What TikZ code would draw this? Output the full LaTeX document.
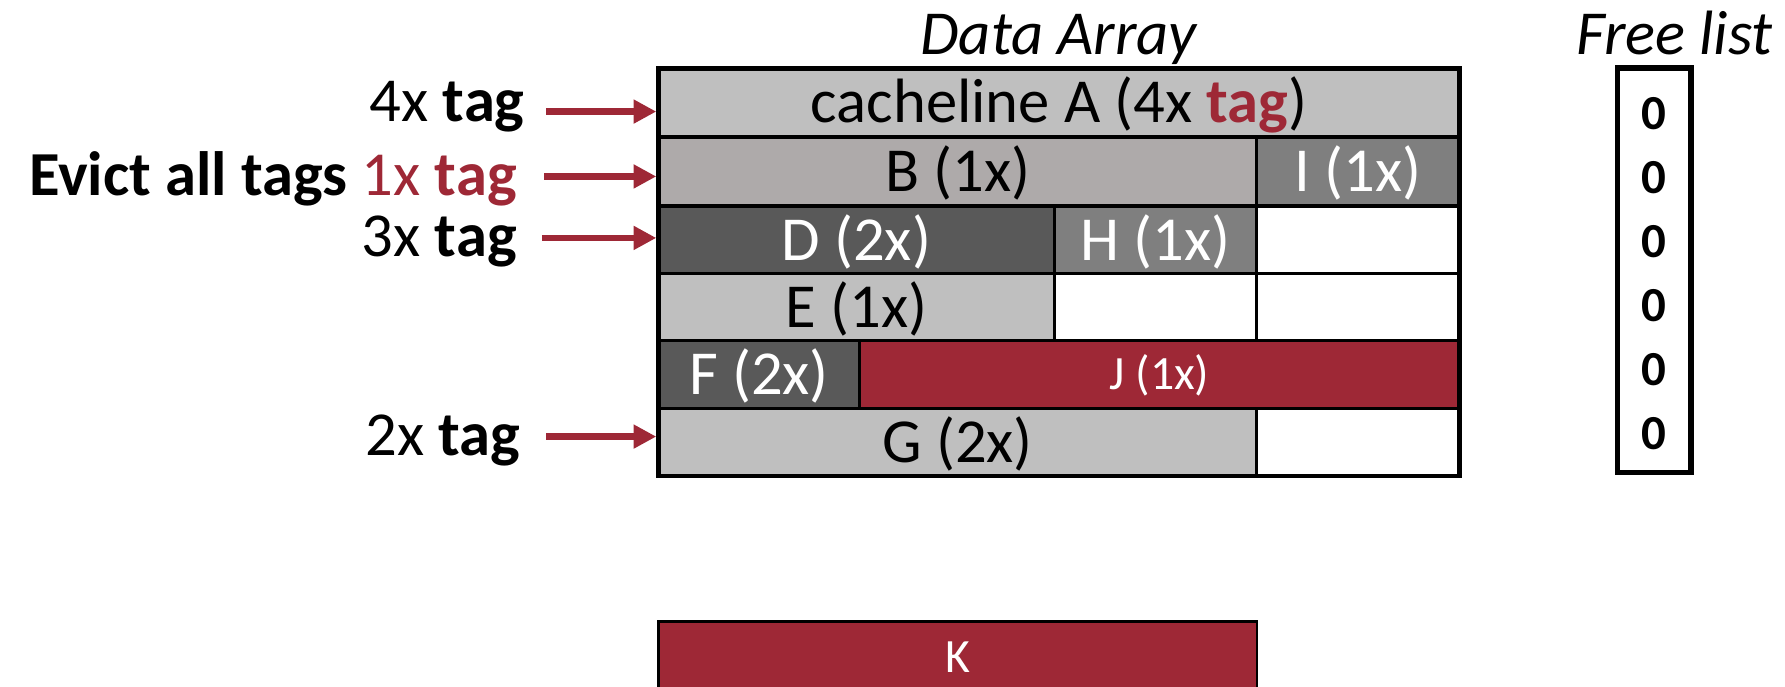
\documentclass[tikz,border=0pt]{standalone}
\usepackage{fontspec}
\setmainfont{Carlito}
\usetikzlibrary{arrows.meta}
\definecolor{tagred}{RGB}{158,40,54}
\definecolor{cellLight}{RGB}{191,191,191}
\definecolor{cellWarm}{RGB}{174,170,170}
\definecolor{cellMid}{RGB}{127,127,127}
\definecolor{cellDark}{RGB}{89,89,89}
\begin{document}
\begin{tikzpicture}[x=1pt,y=-1pt,
  cell/.style={draw=black,line width=2.5pt,inner sep=0pt,minimum height=59.67pt,
    text height=35pt,text depth=0pt,font=\fontsize{55}{60}\selectfont},
  small/.style={text height=26pt,font=\fontsize{42}{46}\selectfont},
  frame/.style={draw=black,line width=4pt,inner sep=0pt},
  lbl/.style={anchor=base east,inner sep=0pt,font=\fontsize{55}{60}\selectfont},
  title/.style={anchor=base,inner sep=0pt,font=\fontsize{55}{60}\selectfont\itshape},
  zero/.style={inner sep=0pt,text height=27pt,text depth=0pt,font=\fontsize{43}{47}\selectfont\bfseries},
  arr/.style={draw=tagred,line width=5.5pt,-{Triangle[length=20pt,width=20pt]}}]
\useasboundingbox (0,0) rectangle (1568,603);
\clip (0,0) rectangle (1568,603);

% titles
\node[title] (tdata) at (930,48) {Data Array};
\node[title] (tfree) at (1471,48) {Free list};

% data array rows
\node[cell,fill=cellLight,minimum width=703.5pt] (A) at (930.25,89.83) {cacheline A (4x \textcolor{tagred}{\bfseries tag})};

\node[cell,fill=cellWarm,minimum width=525.5pt] (B) at (841.25,150.5) {B (1x)};
\node[cell,fill=cellMid,text=white,minimum width=178pt] (I) at (1193,150.5) {I (1x)};

\node[cell,fill=cellDark,text=white,minimum width=347.5pt] (D) at (752.25,211) {D (2x)};
\node[cell,fill=cellMid,text=white,minimum width=178pt] (H) at (1015,211) {H (1x)};
\node[cell,fill=white,minimum width=178pt] (e3) at (1193,211) {};

\node[cell,fill=cellLight,minimum width=347.5pt] (E) at (752.25,270) {E (1x)};
\node[cell,fill=white,minimum width=178pt] (e4a) at (1015,270) {};
\node[cell,fill=white,minimum width=178pt] (e4b) at (1193,270) {};

\node[cell,fill=cellDark,text=white,minimum width=176.5pt] (F) at (666.75,329) {F (2x)};
\node[cell,small,fill=tagred,text=white,minimum width=527pt] (J) at (1018.5,329) {J (1x)};

\node[cell,fill=cellLight,minimum width=525.5pt,minimum height=59pt] (G) at (841.25,388.5) {G (2x)};
\node[cell,fill=white,minimum width=178pt,minimum height=59pt] (e6) at (1193,388.5) {};

\node[frame,minimum width=703.5pt,minimum height=358pt] (array) at (930.25,239) {};

% incoming tags
\node[lbl] (l4) at (461,107) {4x \textbf{tag}};
\node[lbl] (l1) at (454,172) {\textbf{Evict all tags} \textcolor{tagred}{1x \textbf{tag}}};
\node[lbl] (l3) at (454,225.5) {3x \textbf{tag}};
\node[lbl] (l2) at (457,400) {2x \textbf{tag}};

\coordinate (s4) at (480,98);
\coordinate (s1) at (478,155);
\coordinate (s3) at (476,209);
\coordinate (s2) at (480,383.5);
\draw[arr] (s4) -- (s4 -| array.west);
\draw[arr] (s1) -- (s1 -| array.west);
\draw[arr] (s3) -- (s3 -| array.west);
\draw[arr] (s2) -- (s2 -| array.west);

% free list
\node[frame,line width=5pt,minimum width=64.5pt,minimum height=355pt] (free) at (1453,237.5) {};
\foreach \i/\y in {1/100,2/156.2,3/212.4,4/268.6,5/324.8,6/381}
  \node[zero] (z\i) at (1453,\y) {0};

% incoming cacheline
\node[cell,small,fill=tagred,text=white,line width=2pt,minimum width=525.5pt,minimum height=64pt] (K) at (841.25,578) {K};
\end{tikzpicture}
\end{document}
